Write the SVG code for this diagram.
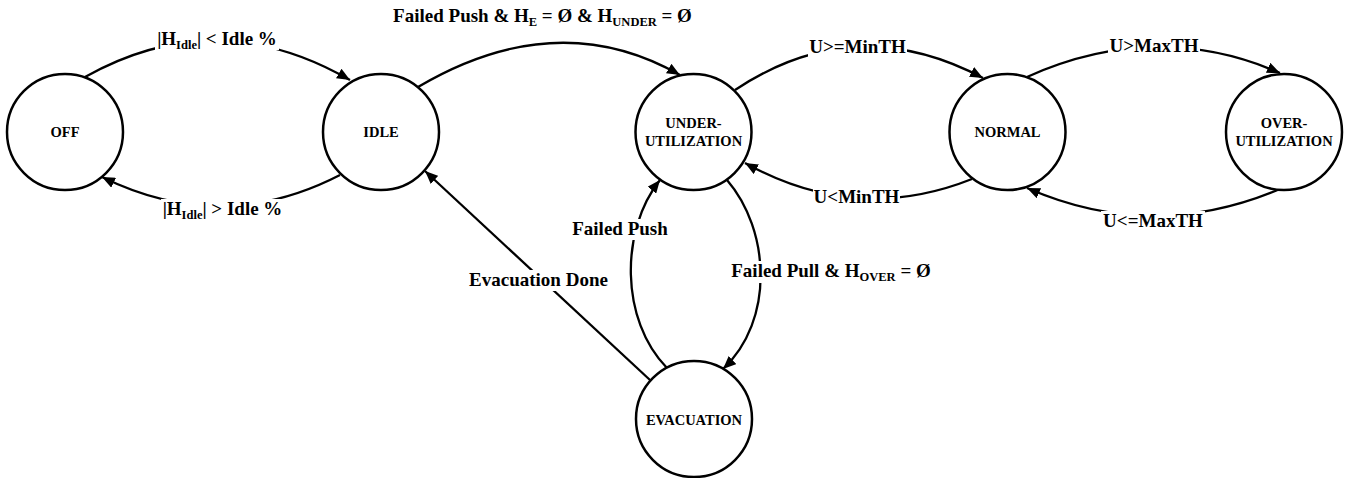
<svg xmlns="http://www.w3.org/2000/svg" width="1350" height="478" viewBox="0 0 1350 478">
  <style>
    .state { fill: #ffffff; stroke: #000000; stroke-width: 2.5; }
    .name { font-family: "Liberation Serif", "Times New Roman", serif; font-weight: bold; font-size: 14.5px; text-anchor: middle; fill: #000000; }
    .edge { fill: none; stroke: #000000; stroke-width: 2.3; marker-end: url(#arrow); }
    .lbl { font-family: "Liberation Serif", "Times New Roman", serif; font-weight: bold; font-size: 19px; text-anchor: middle; fill: #000000; }
    .sub { font-size: 12.5px; }
    .bg { fill: #ffffff; stroke: none; }
  </style>
  <defs>
    <marker id="arrow" markerWidth="14" markerHeight="11" refX="13" refY="5.5" orient="auto" markerUnits="userSpaceOnUse">
      <path d="M0,0 L13,5.5 L0,11 z" fill="#000000"/>
    </marker>
  </defs>

  <rect width="1350" height="478" fill="#ffffff"/>

  <!-- transitions -->
  <g id="connectors">
    <path class="edge" d="M85,77 Q217,3 350,80"/>
    <path class="edge" d="M340,175 Q222,236 102,177"/>
    <path class="edge" d="M418,87 Q557,5 680,75"/>
    <path class="edge" d="M735,90 Q855,10 983,78"/>
    <path class="edge" d="M972,179 Q856,225 745,163"/>
    <path class="edge" d="M1027,77 Q1156,19 1280,73"/>
    <path class="edge" d="M1280,189 Q1153,243 1027,188"/>
    <path class="edge" d="M650,380 L425,171"/>
    <path class="edge" d="M667,368 C620,320 620,230 660,180"/>
    <path class="edge" d="M727,180 C770,230 775,320 723,369"/>
  </g>

  <!-- transition labels -->
  <g id="labels">
    <rect class="bg" x="155" y="29" width="124" height="21"/>
    <text class="lbl" x="217" y="45">|H<tspan class="sub" dy="4">Idle</tspan><tspan dy="-4">| &lt; Idle %</tspan></text>

    <rect class="bg" x="161" y="199" width="124" height="21"/>
    <text class="lbl" x="222.5" y="215">|H<tspan class="sub" dy="4">Idle</tspan><tspan dy="-4">| &gt; Idle %</tspan></text>

    <text class="lbl" x="542.5" y="22">Failed Push &amp; H<tspan class="sub" dy="4">E</tspan><tspan dy="-4"> = Ø &amp; H</tspan><tspan class="sub" dy="4">UNDER</tspan><tspan dy="-4"> = Ø</tspan></text>

    <rect class="bg" x="808" y="37" width="99" height="21"/>
    <text class="lbl" x="857.5" y="53">U&gt;=MinTH</text>

    <rect class="bg" x="813" y="187" width="87" height="21"/>
    <text class="lbl" x="856.5" y="203">U&lt;MinTH</text>

    <rect class="bg" x="1108" y="36" width="92" height="21"/>
    <text class="lbl" x="1154" y="52">U&gt;MaxTH</text>

    <rect class="bg" x="1101" y="211" width="104" height="21"/>
    <text class="lbl" x="1153" y="227">U&lt;=MaxTH</text>

    <rect class="bg" x="467" y="270" width="143" height="21"/>
    <text class="lbl" x="538.5" y="286">Evacuation Done</text>

    <rect class="bg" x="571" y="219" width="98" height="21"/>
    <text class="lbl" x="620" y="235">Failed Push</text>

    <rect class="bg" x="729" y="261" width="204" height="22"/>
    <text class="lbl" x="831" y="277">Failed Pull &amp; H<tspan class="sub" dy="4">OVER</tspan><tspan dy="-4"> = Ø</tspan></text>
  </g>

  <!-- states -->
  <g id="off">
    <circle class="state" cx="65" cy="132" r="58"/>
    <text class="name" x="65" y="137">OFF</text>
  </g>
  <g id="idle">
    <circle class="state" cx="381" cy="132" r="58"/>
    <text class="name" x="381" y="137">IDLE</text>
  </g>
  <g id="under-utilization">
    <circle class="state" cx="693.5" cy="132" r="58"/>
    <text class="name" x="693.5" y="128">UNDER-</text>
    <text class="name" x="693.5" y="146">UTILIZATION</text>
  </g>
  <g id="normal">
    <circle class="state" cx="1007.5" cy="132" r="58"/>
    <text class="name" x="1007.5" y="137">NORMAL</text>
  </g>
  <g id="over-utilization">
    <circle class="state" cx="1284" cy="132" r="58"/>
    <text class="name" x="1284" y="128">OVER-</text>
    <text class="name" x="1284" y="146">UTILIZATION</text>
  </g>
  <g id="evacuation">
    <circle class="state" cx="694" cy="419" r="58"/>
    <text class="name" x="694" y="425">EVACUATION</text>
  </g>
</svg>
